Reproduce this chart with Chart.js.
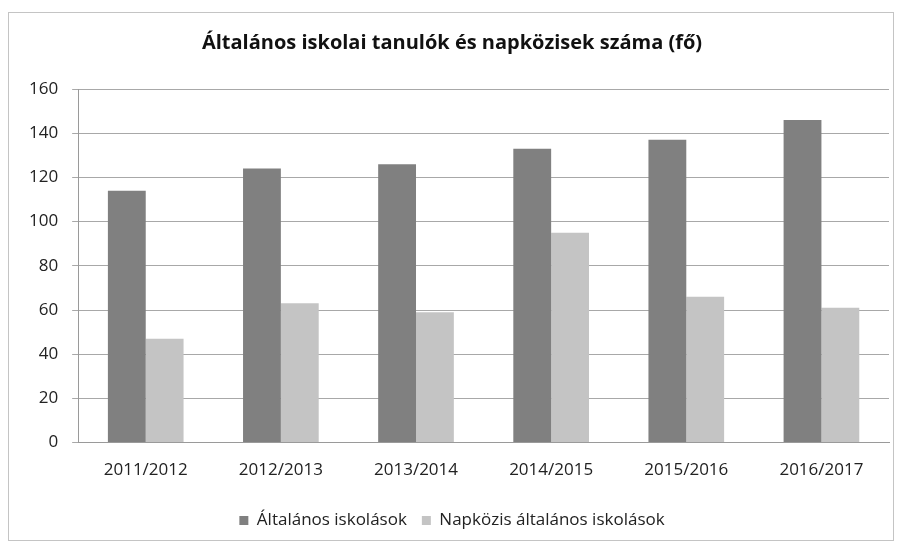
<!DOCTYPE html>
<html>
<head>
<meta charset="utf-8">
<script src="https://cdn.jsdelivr.net/npm/chart.js@4/dist/chart.umd.min.js"></script>
<style>
  html, body { margin: 0; padding: 0; background: #fff; }
  #frame {
    position: absolute; left: 8px; top: 12px; width: 886px; height: 529px;
    border: 1px solid #c4c4c4; box-sizing: border-box; background: #fff;
  }
  #wrap { position: absolute; left: 0; top: 0; width: 884px; height: 527px; }
</style>
</head>
<body>
<div id="frame"><div id="wrap"><canvas id="chart"></canvas></div></div>
<script>
// ── Data ────────────────────────────────────────────────────────────────────
const years      = ['2011/2012', '2012/2013', '2013/2014', '2014/2015', '2015/2016', '2016/2017'];
const altalanos  = [114, 124, 126, 133, 137, 146];
const napkozis   = [47, 63, 59, 95, 66, 61];
const yTicks     = [0, 20, 40, 60, 80, 100, 120, 140, 160];

const FONT = "'Open Sans', 'DejaVu Sans', sans-serif";

new Chart(document.getElementById('chart'), {
  type: 'bar',
  data: {
    labels: years,
    datasets: [
      { label: 'Általános iskolások',          data: altalanos, backgroundColor: '#808080' },
      { label: 'Napközis általános iskolások', data: napkozis,  backgroundColor: '#c4c4c4' },
    ],
  },
  options: {
    responsive: true,
    maintainAspectRatio: false,
    animation: false,
    layout: { padding: { left: 6, right: 4, top: 4, bottom: 1 } },
    datasets: { bar: { barPercentage: 1, categoryPercentage: 0.56 } },
    plugins: {
      title: {
        display: true,
        text: 'Általános iskolai tanulók és napközisek száma (fő)',
        color: '#111',
        font: { family: FONT, size: 20, weight: 'bold' },
        padding: { top: 14, bottom: 34 },
      },
      legend: {
        position: 'bottom',
        labels: {
          color: '#222', boxWidth: 9, boxHeight: 9, padding: 15,
          font: { family: FONT, size: 17 },
        },
      },
      tooltip: { enabled: false },
    },
    scales: {
      x: {
        grid: { display: false, drawTicks: false },
        border: { color: '#9a9a9a' },
        ticks: { color: '#222', padding: 17, font: { family: FONT, size: 17 } },
      },
      y: {
        min: 0, max: 160,
        afterBuildTicks: axis => { axis.ticks = yTicks.map(v => ({ value: v })); },
        grid: { color: '#a8a8a8', tickLength: 6 },
        border: { color: '#9a9a9a' },
        ticks: { color: '#222', padding: 14, font: { family: FONT, size: 17 } },
      },
    },
  },
});
</script>
</body>
</html>
